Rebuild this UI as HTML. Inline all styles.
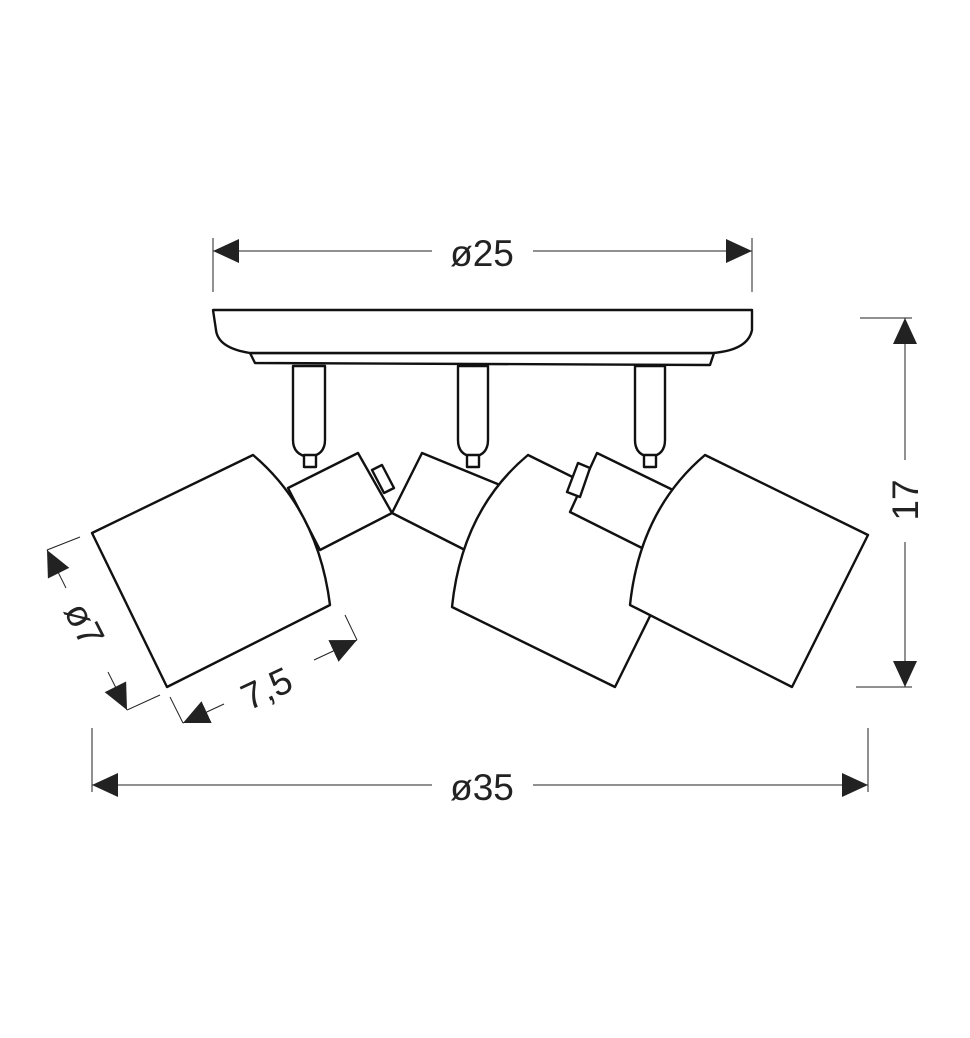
<!DOCTYPE html>
<html><head><meta charset="utf-8"><style>
html,body{margin:0;padding:0;background:#fff;}
svg{display:block;}
text{font-family:"Liberation Sans",sans-serif;fill:#222;}
</style></head><body>
<svg width="970" height="1038" viewBox="0 0 970 1038" xmlns="http://www.w3.org/2000/svg">
<defs>
<marker id="a" markerUnits="userSpaceOnUse" markerWidth="28" markerHeight="24" refX="26" refY="12" orient="auto-start-reverse">
<path d="M0,0 L26,12 L0,24 Z" fill="#222"/></marker>
</defs>
<g stroke="#222" stroke-width="1" fill="none">
<line x1="213" y1="238" x2="213" y2="292"/><line x1="752" y1="238" x2="752" y2="292"/>
<line x1="92" y1="728" x2="92" y2="792"/><line x1="868" y1="728" x2="868" y2="792"/>
<line x1="860" y1="318" x2="912" y2="318"/><line x1="856" y1="687" x2="912" y2="687"/>
<line x1="47" y1="550" x2="80" y2="537"/><line x1="127" y1="710" x2="160" y2="695"/>
<line x1="170" y1="697" x2="183" y2="723"/><line x1="345" y1="615" x2="357" y2="640"/>
<line x1="213" y1="251" x2="432" y2="251" marker-start="url(#a)"/>
<line x1="533" y1="251" x2="752" y2="251" marker-end="url(#a)"/>
<line x1="92" y1="785" x2="432" y2="785" marker-start="url(#a)"/>
<line x1="533" y1="785" x2="868" y2="785" marker-end="url(#a)"/>
<line x1="905" y1="318" x2="905" y2="460" marker-start="url(#a)"/>
<line x1="905" y1="542" x2="905" y2="687" marker-end="url(#a)"/>
<line x1="47" y1="550" x2="66" y2="588" marker-start="url(#a)"/>
<line x1="108" y1="672" x2="127" y2="710" marker-end="url(#a)"/>
<line x1="183" y1="723" x2="224" y2="704" marker-start="url(#a)"/>
<line x1="314" y1="660" x2="357" y2="640" marker-end="url(#a)"/>
</g>
<g stroke="#111" stroke-width="2.4" fill="#fff" stroke-linejoin="round">
<path d="M250,353 L255,363 L710,365 L714,353 Z"/>
<path d="M213,310 L752,310 L752,330 Q748,350 713,353 L250,353 Q218,348 216,330 Z"/>
<path d="M293,366 L325,366 L325,440 Q325,455 309,457 Q293,455 293,440 Z"/>
<path d="M458,366 L488,366 L488,440 Q488,455 473,457 Q458,455 458,440 Z"/>
<path d="M635,366 L665,366 L665,440 Q665,455 650,457 Q635,455 635,440 Z"/>
<rect x="304" y="455" width="12" height="12"/><rect x="467" y="455" width="12" height="12"/><rect x="644" y="455" width="12" height="12"/>
<path d="M288,488 L358,453 L392,513 L320,550 Z"/>
<path d="M372,470 L382,465 L394,488 L384,493 Z"/>
<path d="M422,453 L392,513 L465,550 L500,485 Z"/>
<!-- shade 1 -->
<path d="M92,533 L253,455 Q318,510 330,605 L167,687 Z"/>
<!-- shade 2 -->
<path d="M528,455 L690,535 L615,687 L452,607 Q462,510 528,455 Z"/>
<!-- holder 3 over shade 2 -->
<path d="M597,453 L570,512 L642,548 L673,490 Z"/>
<path d="M578,463 L590,468 L580,497 L567,492 Z"/>
<!-- shade 3 -->
<path d="M705,455 L868,535 L792,687 L630,605 Q640,510 705,455 Z"/>
</g>
<g font-size="37">
<text x="482" y="266" text-anchor="middle">ø25</text>
<text x="482" y="800" text-anchor="middle">ø35</text>
<text transform="translate(918,500) rotate(-90)" text-anchor="middle">17</text>
<text transform="translate(73,630) rotate(63)" text-anchor="middle">ø7</text>
<text transform="translate(272,700) rotate(-25)" text-anchor="middle">7,5</text>
</g>
</svg>
</body></html>
